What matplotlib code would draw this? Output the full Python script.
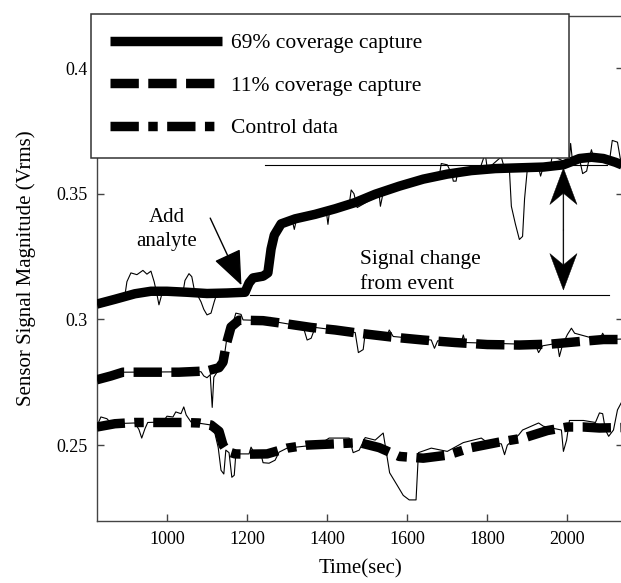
import matplotlib
matplotlib.use("Agg")
import matplotlib.pyplot as plt

# Smoothed capture curves (time in s, signal in Vrms)
t_69 = [825, 870, 920, 960, 1000, 1050, 1100, 1150, 1195, 1205, 1215, 1240, 1252, 1260,
        1268, 1285, 1320, 1370, 1420, 1470, 1520, 1580, 1640, 1700, 1760, 1820, 1880,
        1940, 1990, 2030, 2060, 2090, 2120, 2140]
v_69 = [0.3061, 0.3080, 0.3102, 0.3112, 0.3112, 0.3108, 0.3103, 0.3105, 0.3108, 0.3145,
        0.3165, 0.3172, 0.3185, 0.3280, 0.3335, 0.3380, 0.3400, 0.3418, 0.3440, 0.3465,
        0.3498, 0.3530, 0.3558, 0.3578, 0.3592, 0.3600, 0.3603, 0.3606, 0.3615, 0.3640,
        0.3645, 0.3640, 0.3625, 0.3612]

t_11 = [825, 860, 890, 960, 1030, 1100, 1130, 1140, 1148, 1160, 1180, 1240, 1300, 1360,
        1420, 1480, 1560, 1640, 1720, 1800, 1880, 1960, 2030, 2090, 2140]
v_11 = [0.2760, 0.2775, 0.2790, 0.2790, 0.2790, 0.2795, 0.2808, 0.2830, 0.2900, 0.2970,
        0.2997, 0.2995, 0.2982, 0.2968, 0.2958, 0.2945, 0.2930, 0.2918, 0.2908, 0.2900,
        0.2898, 0.2902, 0.2912, 0.2920, 0.2920]

t_ctrl = [825, 870, 920, 980, 1040, 1080, 1110, 1130, 1140, 1150, 1170, 1200, 1250, 1300,
          1350, 1420, 1480, 1530, 1580, 1640, 1700, 1760, 1830, 1890, 1950, 2000, 2040,
          2080, 2140]
v_ctrl = [0.2572, 0.2585, 0.2590, 0.2590, 0.2590, 0.2588, 0.2580, 0.2555, 0.2500, 0.2475,
          0.2465, 0.2464, 0.2465, 0.2488, 0.2500, 0.2505, 0.2510, 0.2490, 0.2455, 0.2448,
          0.2460, 0.2490, 0.2512, 0.2528, 0.2558, 0.2572, 0.2572, 0.2568, 0.2570]

# Raw (unsmoothed) traces
rt_69 = [825, 860, 895, 900, 910, 925, 940, 950, 960, 968, 975, 980, 988, 1000, 1040, 1045,
         1055, 1062, 1068, 1075, 1085, 1092, 1100, 1110, 1118, 1125, 1195, 1203, 1215, 1245,
         1255, 1265, 1280, 1300, 1312, 1318, 1324, 1350, 1380, 1398, 1402, 1406, 1430, 1455,
         1460, 1467, 1475, 1530, 1533, 1540, 1600, 1680, 1685, 1700, 1712, 1715, 1722, 1725,
         1780, 1792, 1796, 1800, 1830, 1835, 1842, 1855, 1860, 1870, 1880, 1888, 1893, 1900,
         1928, 1933, 1940, 1958, 1962, 1990, 2005, 2008, 2012, 2030, 2038, 2048, 2055, 2060,
         2065, 2105, 2112, 2125, 2132, 2140]
rv_69 = [0.3061, 0.3078, 0.3095, 0.3150, 0.3185, 0.3178, 0.3195, 0.3180, 0.3192, 0.3150,
         0.3100, 0.3058, 0.3105, 0.3110, 0.3108, 0.3155, 0.3182, 0.3170, 0.3120, 0.3100,
         0.3070, 0.3040, 0.3018, 0.3025, 0.3070, 0.3105, 0.3106, 0.3150, 0.3168, 0.3172,
         0.3260, 0.3340, 0.3382, 0.3395, 0.3400, 0.3358, 0.3402, 0.3412, 0.3422, 0.3430,
         0.3378, 0.3432, 0.3440, 0.3455, 0.3515, 0.3500, 0.3445, 0.3495, 0.3450, 0.3505,
         0.3540, 0.3570, 0.3620, 0.3615, 0.3575, 0.3550, 0.3550, 0.3580, 0.3592, 0.3648,
         0.3645, 0.3598, 0.3640, 0.3645, 0.3605, 0.3600, 0.3450, 0.3380, 0.3318, 0.3330,
         0.3480, 0.3600, 0.3605, 0.3570, 0.3608, 0.3612, 0.3650, 0.3630, 0.3640, 0.3700,
         0.3640, 0.3640, 0.3580, 0.3590, 0.3645, 0.3675, 0.3645, 0.3630, 0.3712, 0.3705,
         0.3640, 0.3612]

rt_11 = [825, 870, 890, 1085, 1092, 1100, 1108, 1113, 1117, 1125, 1135, 1142, 1150, 1165,
         1172, 1185, 1190, 1250, 1258, 1265, 1340, 1350, 1360, 1370, 1470, 1478, 1490, 1495,
         1550, 1555, 1565, 1660, 1668, 1676, 1735, 1740, 1745, 1920, 1928, 1938, 1975, 1980,
         1988, 2000, 2010, 2018, 2080, 2088, 2096, 2140]
rv_11 = [0.2760, 0.2780, 0.2790, 0.2792, 0.2775, 0.2768, 0.2780, 0.2650, 0.2770, 0.2790,
         0.2805, 0.2840, 0.2930, 0.2985, 0.3025, 0.3020, 0.2998, 0.2995, 0.3008, 0.2992,
         0.2972, 0.2918, 0.2925, 0.2968, 0.2948, 0.2868, 0.2880, 0.2945, 0.2935, 0.2958,
         0.2932, 0.2918, 0.2885, 0.2915, 0.2908, 0.2938, 0.2908, 0.2900, 0.2868, 0.2895,
         0.2905, 0.2852, 0.2900, 0.2940, 0.2965, 0.2945, 0.2918, 0.2945, 0.2920, 0.2922]

rt_ctrl = [825, 835, 850, 862, 920, 930, 937, 945, 952, 990, 1000, 1015, 1022, 1035, 1042,
           1048, 1060, 1110, 1120, 1128, 1135, 1142, 1147, 1155, 1162, 1168, 1172, 1205,
           1210, 1218, 1235, 1240, 1255, 1270, 1280, 1300, 1380, 1405, 1455, 1465, 1480,
           1495, 1520, 1540, 1548, 1556, 1575, 1590, 1605, 1622, 1628, 1660, 1700, 1740,
           1785, 1800, 1835, 1843, 1850, 1878, 1888, 1928, 1940, 1985, 1990, 1998, 2005,
           2040, 2070, 2080, 2088, 2095, 2103, 2115, 2125, 2140]
rv_ctrl = [0.2575, 0.2612, 0.2605, 0.2585, 0.2588, 0.2562, 0.2528, 0.2565, 0.2590, 0.2592,
           0.2615, 0.2612, 0.2632, 0.2625, 0.2652, 0.2620, 0.2592, 0.2580, 0.2545, 0.2490,
           0.2400, 0.2385, 0.2480, 0.2470, 0.2372, 0.2380, 0.2465, 0.2465, 0.2492, 0.2468,
           0.2462, 0.2430, 0.2428, 0.2440, 0.2472, 0.2488, 0.2502, 0.2528, 0.2528, 0.2470,
           0.2480, 0.2530, 0.2520, 0.2548, 0.2470, 0.2390, 0.2340, 0.2300, 0.2282, 0.2282,
           0.2470, 0.2488, 0.2475, 0.2510, 0.2528, 0.2510, 0.2505, 0.2462, 0.2500, 0.2540,
           0.2560, 0.2588, 0.2575, 0.2560, 0.2475, 0.2520, 0.2598, 0.2598, 0.2590, 0.2628,
           0.2625, 0.2560, 0.2535, 0.2560, 0.2640, 0.2685]

labels = ['69% coverage capture', '11% coverage capture', 'Control data']

# Reference levels for the "signal change" marker
level_before = 0.3097
level_after = 0.3614
event_time = 1990

plt.rcParams['font.family'] = ['Liberation Serif', 'DejaVu Serif']

fig = plt.figure(figsize=(6.21, 5.83), dpi=100)
ax = fig.add_axes([0.156, 0.1063, 0.848, 0.8663])

# RAW TRACES
for rt, rv in [(rt_69, rv_69), (rt_11, rv_11), (rt_ctrl, rv_ctrl)]:
    ax.plot(rt, rv, color='black', lw=0.8, zorder=2)

# SMOOTHED TRACES
lw_thick = 6.8
l1, = ax.plot(t_69, v_69, color='black', lw=lw_thick, solid_capstyle='butt',
              solid_joinstyle='round', zorder=3, label=labels[0])
l2, = ax.plot(t_11, v_11, color='black', lw=lw_thick, linestyle=(0, (3, 1)),
              zorder=3, label=labels[1])
l3, = ax.plot(t_ctrl, v_ctrl, color='black', lw=lw_thick, linestyle=(0, (3, 1, 1, 1)),
              zorder=3, label=labels[2])

# reference lines
ax.plot([1246, 2100], [level_after, level_after], color='black', lw=0.8, zorder=2)
ax.plot([1208, 2103], [level_before, level_before], color='black', lw=0.8, zorder=2)

# ANNOTATIONS
ax.text(1000, 0.3358, 'Add\nanalyte', ha='center', va='center', fontsize=15,
        linespacing=1.35)
ax.annotate('', xy=(1186, 0.3136), xytext=(1108, 0.3403),
            arrowprops=dict(arrowstyle='-|>,head_length=1.1,head_width=0.45',
                            mutation_scale=20, lw=1, color='black',
                            shrinkA=0, shrinkB=0), zorder=5)

# double arrow with swept-back heads, drawn as two arrows from the middle
mid = (level_before + level_after) / 2
for end in [level_after - 0.0012, level_before + 0.0020]:
    ax.arrow(event_time, mid, 0, end - mid, width=2.2, head_width=68,
             head_length=0.0145, overhang=0.3, length_includes_head=True,
             color='black', lw=0.3, zorder=5)

ax.text(1482, 0.3188, 'Signal change\nfrom event', ha='left', va='center',
        fontsize=15.5, linespacing=1.4)

# AXES
ax.set_xlim(825, 2140)
ax.set_ylim(0.2198, 0.4207)
ax.set_xticks([1000, 1200, 1400, 1600, 1800, 2000])
ax.set_yticks([0.25, 0.3, 0.35, 0.4])
ax.set_yticklabels(['0.25', '0.3', '0.35', '0.4'])
ax.tick_params(direction='in', length=5, width=1, color='#444444', labelsize=13,
               top=True, right=True, pad=7)
for s in ax.spines.values():
    s.set_color('#444444')
    s.set_linewidth(1)
ax.set_xlabel('Time(sec)', fontsize=15, labelpad=8)
ax.set_ylabel('Sensor Signal Magnitude (Vrms)', fontsize=15, labelpad=14)

# LEGEND (sticks out past the left spine, so place it in figure coords)
leg = fig.legend(handles=[l1, l2, l3], loc='upper left',
                 bbox_to_anchor=(91 / 621, 1 - 14 / 583, 478 / 621, 0),
                 mode='expand', borderaxespad=0, fontsize=15.5, handlelength=5.2,
                 handletextpad=0.4, labelspacing=1.04, borderpad=0.9, fancybox=False,
                 framealpha=1, edgecolor='#333333')
leg.get_frame().set_linewidth(1.1)
leg.set_zorder(10)

fig.savefig('out.png', dpi=100)
